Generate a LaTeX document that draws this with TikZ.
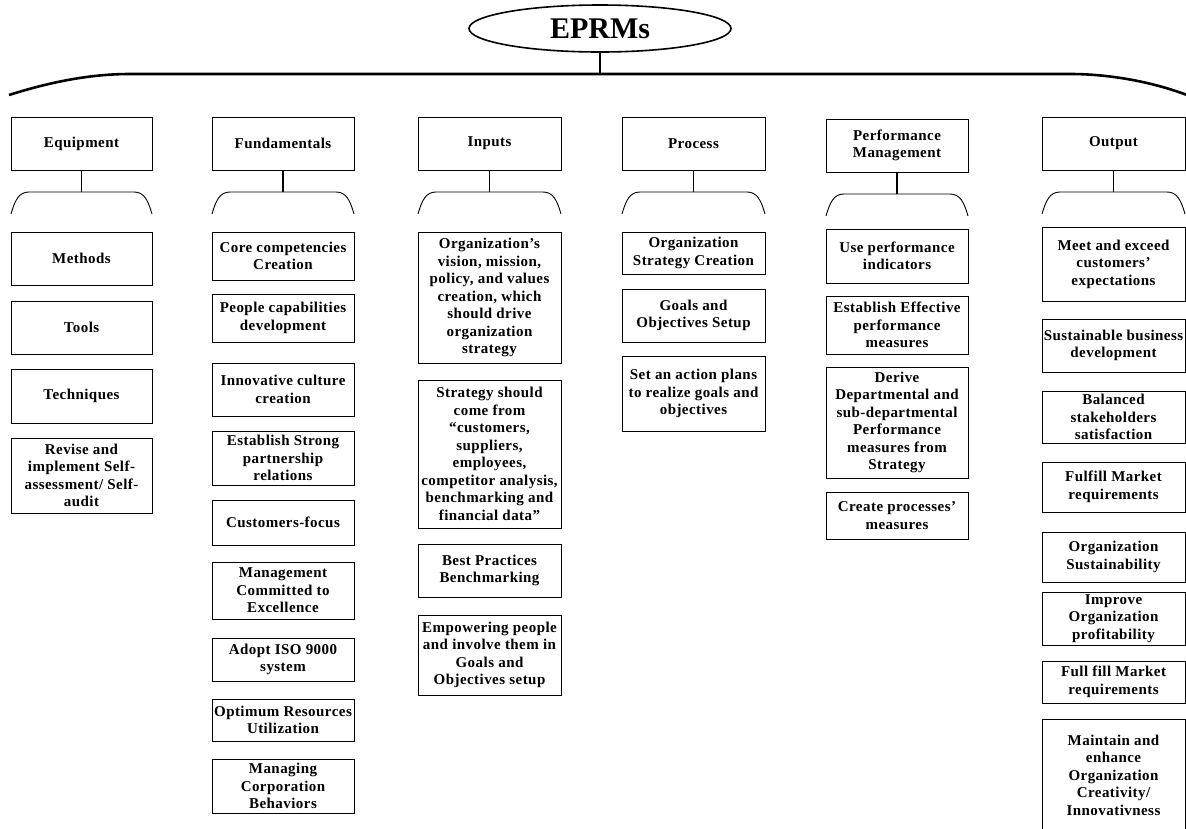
\documentclass[tikz,border=0pt]{standalone}
\usepackage{fontspec}
\setmainfont{Liberation Serif}[LetterSpace=3]
\newfontfamily\rootfont{Liberation Serif}
\usetikzlibrary{shapes.geometric}
\tikzset{
  boxbase/.style={draw, rectangle, line width=0.9pt, inner sep=0pt, outer sep=0pt, align=center,
     font=\fontsize{15}{17.5}\selectfont\bfseries},
  bracketline/.style={line width=0.9pt},
  linkline/.style={line width=1.2pt},
  barline/.style={line width=2.6pt},
}
\newcommand\bx[6]{\node[boxbase, minimum width={#4-#2}, minimum height={#5-#3}] (#1) at ({(#2+#4)/2},{(#3+#5)/2}) {#6};}
\newcommand\brk[5]{% name, xl, xr, ytop, ybot
  \coordinate (#1) at ({(#2+#3)/2},#4);
  \draw[bracketline] (#2,#5) .. controls (#2+4,#4+8) and (#2+8,#4) .. (#2+18,#4) -- (#3-18,#4) .. controls (#3-8,#4) and (#3-4,#4+8) .. (#3,#5);}
\begin{document}
\begin{tikzpicture}[x=1pt,y=-1pt]
\useasboundingbox (0,0) rectangle (1186,828);
\clip (0,0) rectangle (1186,828);
% root
\node[draw, ellipse, line width=1.6pt, minimum width=262pt, minimum height=47pt, inner sep=0pt,
  font=\rootfont\fontsize{30}{32}\selectfont\bfseries] (root) at (600,28.5) {EPRMs};
\coordinate (hub) at (600,74);
\draw[barline] (root.south) -- (hub);
\draw[barline] (9,95) .. controls (50,82) and (90,74) .. (130,74) -- (hub) -- (1070,74) .. controls (1115,74) and (1160,84) .. (1192,97);
% categories
\bx{cEq}{11}{117}{152}{170}{Equipment}
\bx{cFu}{212}{117}{354}{170}{Fundamentals}
\bx{cIn}{418}{117}{561}{170}{Inputs}
\bx{cPr}{622}{117}{765}{170}{Process}
\bx{cPM}{826}{119}{968}{172}{Performance\\Management}
\bx{cOu}{1042}{117}{1185}{170}{Output}
% brackets
\brk{aEq}{11}{152}{192}{214}
\brk{aFu}{212}{354}{192}{214}
\brk{aIn}{418}{561}{192}{214}
\brk{aPr}{622}{765}{192}{214}
\brk{aPM}{826}{968}{194}{216}
\brk{aOu}{1042}{1185}{192}{214}
\draw[linkline] (cEq.south) -- (aEq);
\draw[linkline] (cFu.south) -- (aFu);
\draw[linkline] (cIn.south) -- (aIn);
\draw[linkline] (cPr.south) -- (aPr);
\draw[linkline] (cPM.south) -- (aPM);
\draw[linkline] (cOu.south) -- (aOu);
% column 1
\bx{e1}{11}{232}{152}{285}{Methods}
\bx{e2}{11}{301}{152}{354}{Tools}
\bx{e3}{11}{369}{152}{423}{Techniques}
\bx{e4}{11}{438}{152}{513}{Revise and\\implement Self-\\assessment/ Self-\\audit}
% column 2
\bx{f1}{212}{232}{354}{280}{Core competencies\\Creation}
\bx{f2}{212}{294}{354}{342}{People capabilities\\development}
\bx{f3}{212}{363}{354}{416}{Innovative culture\\creation}
\bx{f4}{212}{431}{354}{485}{Establish Strong\\partnership\\relations}
\bx{f5}{212}{500}{354}{545}{Customers-focus}
\bx{f6}{212}{562}{354}{619}{Management\\Committed to\\Excellence}
\bx{f7}{212}{638}{354}{681}{Adopt ISO 9000\\system}
\bx{f8}{212}{699}{354}{741}{Optimum Resources\\Utilization}
\bx{f9}{212}{759}{354}{813}{Managing\\Corporation\\Behaviors}
% column 3
\bx{i1}{418}{232}{561}{363}{Organization’s\\vision, mission,\\policy, and values\\creation, which\\should drive\\organization\\strategy}
\bx{i2}{418}{380}{561}{528}{Strategy should\\come from\\“customers,\\suppliers,\\employees,\\competitor analysis,\\benchmarking and\\financial data”}
\bx{i3}{418}{544}{561}{597}{Best Practices\\Benchmarking}
\bx{i4}{418}{615}{561}{695}{Empowering people\\and involve them in\\Goals and\\Objectives setup}
% column 4
\bx{p1}{622}{232}{765}{274}{Organization\\Strategy Creation}
\bx{p2}{622}{289}{765}{342}{Goals and\\Objectives Setup}
\bx{p3}{622}{356}{765}{431}{Set an action plans\\to realize goals and\\objectives}
% column 5
\bx{m1}{826}{229}{968}{283}{Use performance\\indicators}
\bx{m2}{826}{296}{968}{354}{Establish Effective\\performance\\measures}
\bx{m3}{826}{367}{968}{478}{Derive\\Departmental and\\sub-departmental\\Performance\\measures from\\Strategy}
\bx{m4}{826}{492}{968}{539}{Create processes’\\measures}
% column 6
\bx{o1}{1042}{227}{1185}{301}{Meet and exceed\\customers’\\expectations}
\bx{o2}{1042}{319}{1185}{372}{Sustainable business\\development}
\bx{o3}{1042}{391}{1185}{443}{Balanced\\stakeholders\\satisfaction}
\bx{o4}{1042}{462}{1185}{512}{Fulfill Market\\requirements}
\bx{o5}{1042}{532}{1185}{582}{Organization\\Sustainability}
\bx{o6}{1042}{592}{1185}{645}{Improve\\Organization\\profitability}
\bx{o7}{1042}{661}{1185}{703}{Full fill Market\\requirements}
\bx{o8}{1042}{719}{1185}{831}{Maintain and\\enhance\\Organization\\Creativity/\\Innovativness}
\end{tikzpicture}
\end{document}
